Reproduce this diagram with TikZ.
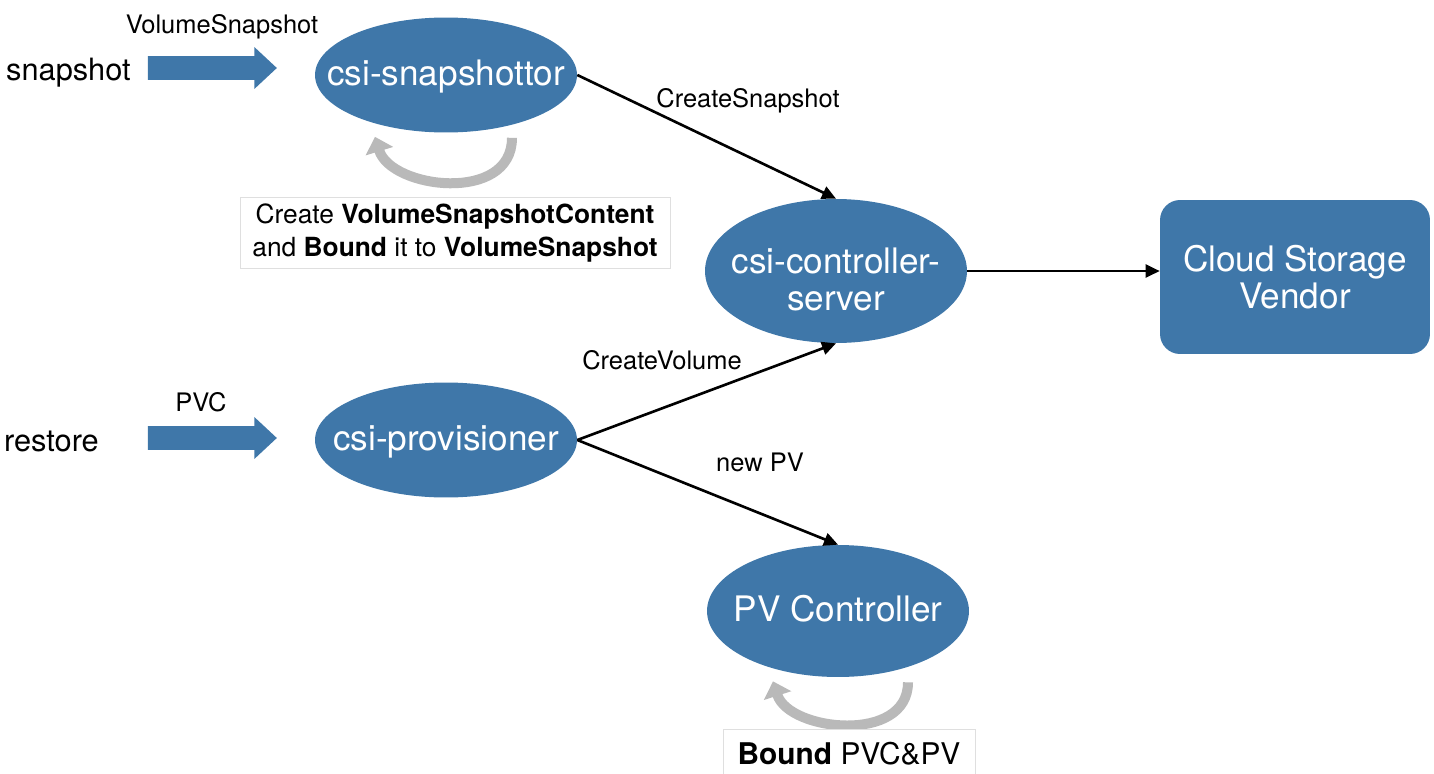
\documentclass[tikz,border=0pt]{standalone}
\usepackage{fontspec}
\setmainfont{TeX Gyre Heros}
\usetikzlibrary{shapes.geometric, shapes.arrows, arrows.meta, positioning}
\definecolor{csiblue}{HTML}{3F77A9}
\newcommand{\proctext}[2][0.24cm]{\makebox[0pt]{\smash{\raisebox{-#1}{\begin{tabular}{@{}c@{}}#2\end{tabular}}}}}

\begin{document}
\begin{tikzpicture}[x=0.02cm, y=-0.02cm,
    proc/.style={ellipse, fill=csiblue, text=white, minimum width=5.24cm, minimum height=2.3cm,
        inner sep=0pt, font=\fontsize{20}{21}\selectfont},
    fatarrow/.style={single arrow, fill=csiblue, inner xsep=0pt, inner ysep=0.23cm,
        single arrow head extend=0.18cm, single arrow tip angle=86, minimum height=2.58cm},
    side/.style={font=\fontsize{17.5}{20}\selectfont},
    lbl/.style={font=\fontsize{14.5}{17}\selectfont},
    call/.style={line width=1.5pt, -{Triangle[length=0.28cm, width=0.26cm]}},
    loopy/.style={line width=0.2cm, gray!55, -{Triangle[length=0.3cm, width=0.56cm]}},
    note/.style={draw=gray!25, line width=0.5pt, fill=white, align=center}]
    \useasboundingbox (0,0) rectangle (1434,774);

    % inputs
    \node[side, anchor=west] (snapin) at (0,73) {snapshot};
    \node[side, anchor=west] (restorein) at (-2,441) {restore};
    \node[fatarrow] (arr1) at (206,68) {};
    \node[fatarrow] (arr2) at (206,438) {};
    \node[lbl] (vslbl) at (222,27) {VolumeSnapshot};
    \node[lbl] (pvclbl) at (201,402) {PVC};

    % components
    \node[proc] (snap) at (446,75) {\proctext{csi-snapshottor}};
    \node[proc, minimum height=2.88cm] (ctrl) at (836,271) {\proctext[0.45cm]{csi-controller-\\server}};
    \node[proc] (prov) at (446,440) {\proctext{csi-provisioner}};
    \node[proc, minimum height=2.64cm] (pvc) at (838,611) {\proctext{PV Controller}};
    \node[rectangle, rounded corners=0.4cm, fill=csiblue, text=white, minimum width=5.4cm,
        minimum height=3.08cm, align=center, font=\fontsize{20}{21}\selectfont]
        (cloud) at (1295,277) {Cloud Storage\\Vendor};

    % calls
    \draw[call] (snap.east) -- (ctrl.north);
    \draw[call] (prov.east) -- (ctrl.south);
    \draw[call] (prov.east) -- (pvc.north);
    \draw[call] (ctrl.east) -- (ctrl.east -| cloud.west);
    \node[lbl] (cslbl) at (748,101) {CreateSnapshot};
    \node[lbl] (cvlbl) at (662,360) {CreateVolume};
    \node[lbl] (pvlbl) at (760,462) {new PV};

    % self loops
    \draw[loopy] ([shift={(66,5)}]snap.south) .. controls +(0,66) and +(16,52) .. ([shift={(-71,4)}]snap.south);
    \draw[loopy] ([shift={(70,5)}]pvc.south) .. controls +(0,62) and +(16,50) .. ([shift={(-65,4)}]pvc.south);
    \node[note, minimum width=8.6cm, minimum height=1.4cm, font=\fontsize{15}{19.3}\selectfont]
        (snapnote) at (455,233) {Create \textbf{VolumeSnapshotContent}\\and \textbf{Bound} it to \textbf{VolumeSnapshot}};
    \node[note, minimum width=5.04cm, minimum height=1.0cm, font=\fontsize{17}{20}\selectfont]
        (pvcnote) at (849,754) {\textbf{Bound} PVC\&PV};
\end{tikzpicture}
\end{document}
